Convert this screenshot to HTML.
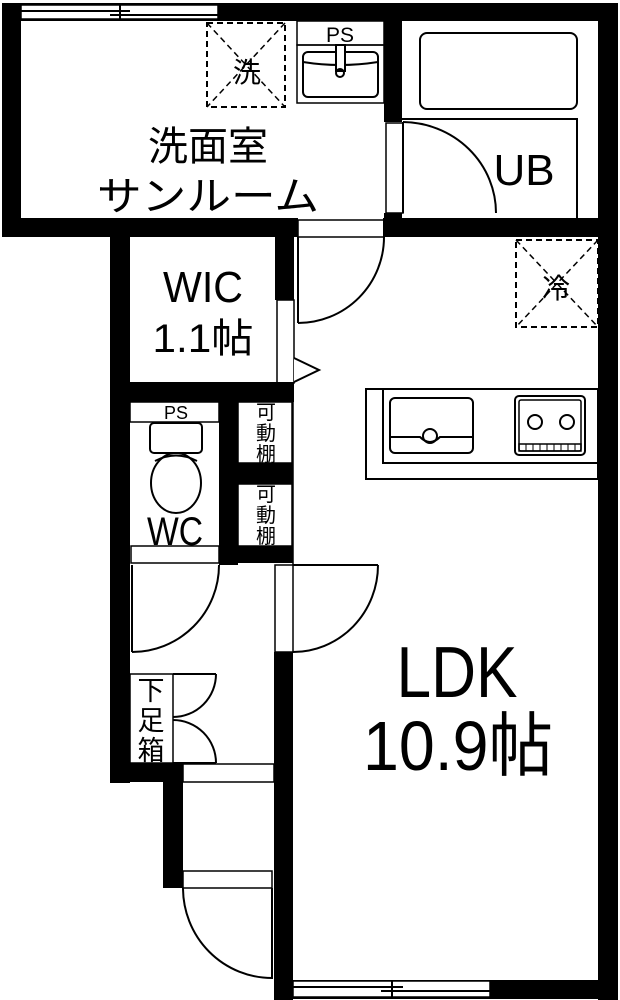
<!DOCTYPE html>
<html><head><meta charset="utf-8"><style>
html,body{margin:0;padding:0;background:#fff;}
svg{display:block;}
text{font-family:"Liberation Sans","Noto Sans CJK JP",sans-serif;fill:#000;}
</style></head><body>
<svg width="620" height="1000" viewBox="0 0 620 1000" xmlns="http://www.w3.org/2000/svg">
<rect width="620" height="1000" fill="#fff"/>
<g fill="#000">
<rect x="2" y="3" width="616" height="18"/>
<rect x="2" y="3" width="19" height="234"/>
<rect x="2" y="218" width="296" height="19"/>
<rect x="383" y="218" width="235" height="19"/>
<rect x="384" y="18" width="18" height="104"/>
<rect x="384" y="213" width="18" height="12"/>
<rect x="598" y="3" width="20" height="997"/>
<rect x="110" y="230" width="20" height="553"/>
<rect x="275" y="230" width="19" height="70"/>
<rect x="110" y="382" width="184" height="20"/>
<rect x="219" y="400" width="19" height="165"/>
<rect x="238" y="463" width="55" height="21"/>
<rect x="219" y="546" width="74" height="17"/>
<rect x="110" y="763" width="73" height="19"/>
<rect x="163" y="763" width="20" height="125"/>
<rect x="274" y="652" width="19" height="348"/>
<rect x="274" y="980" width="344" height="19"/>
</g>
<g fill="none" stroke="#000" stroke-width="2">
<rect x="21" y="5" width="197" height="14" fill="#fff" stroke-width="1.5"/>
<line x1="21" y1="11" x2="130" y2="11"/>
<line x1="110" y1="15" x2="218" y2="15"/>
<line x1="120" y1="5" x2="120" y2="19"/>
<rect x="293" y="981" width="197" height="16" fill="#fff" stroke-width="1.5"/>
<line x1="293" y1="987" x2="403" y2="987"/>
<line x1="381" y1="991" x2="490" y2="991"/>
<line x1="392" y1="981" x2="392" y2="997"/>
<rect x="207" y="23" width="78" height="84" stroke-dasharray="6,4"/>
<line x1="207" y1="23" x2="285" y2="107" stroke-dasharray="6,4" stroke-width="1.5"/>
<line x1="285" y1="23" x2="207" y2="107" stroke-dasharray="6,4" stroke-width="1.5"/>
<rect x="297" y="21" width="87" height="24" stroke-width="1.5"/>
<rect x="297" y="45" width="87" height="58" stroke-width="1.5"/>
<rect x="303" y="52" width="75" height="45" rx="5"/>
<path d="M303 62 Q340 68 378 62"/>
<rect x="336" y="45" width="9" height="26" fill="#fff"/>
<circle cx="340" cy="73" r="4"/>
<rect x="420" y="33" width="157" height="76" rx="7"/>
<polyline points="402,119 577,119 577,218"/>
<rect x="386" y="123" width="17" height="90" stroke-width="1.5"/>
<line x1="403" y1="122" x2="403" y2="213"/>
<path d="M403 122 A94 91 0 0 1 496 213"/>
<rect x="298" y="220" width="86" height="17" stroke-width="1.5"/>
<line x1="298" y1="237" x2="298" y2="323"/>
<path d="M298 323 A86 86 0 0 0 384 237"/>
<rect x="277" y="300" width="17" height="83" stroke-width="1.5"/>
<polyline points="294,358 319,370 294,382" fill="#fff"/>
<rect x="516" y="240" width="82" height="87" stroke-dasharray="6,4"/>
<line x1="516" y1="240" x2="598" y2="327" stroke-dasharray="6,4" stroke-width="1.5"/>
<line x1="598" y1="240" x2="516" y2="327" stroke-dasharray="6,4" stroke-width="1.5"/>
<rect x="366" y="389" width="232" height="90"/>
<polyline points="383,389 383,463 598,463"/>
<rect x="390" y="398" width="83" height="55" rx="5"/>
<path d="M390 437 L420 437 Q430 447 440 437 L473 437"/>
<circle cx="430" cy="436" r="7"/>
<rect x="515" y="396" width="70" height="59" rx="4"/>
<rect x="519" y="400" width="62" height="51" rx="2" stroke-width="1.5"/>
<ellipse cx="535" cy="422" rx="7" ry="7"/>
<ellipse cx="567" cy="422" rx="7" ry="7"/>
<rect x="519" y="444" width="62" height="7" stroke-width="1.5"/>
<line x1="526" y1="444" x2="526" y2="451" stroke-width="1"/><line x1="533" y1="444" x2="533" y2="451" stroke-width="1"/><line x1="540" y1="444" x2="540" y2="451" stroke-width="1"/><line x1="547" y1="444" x2="547" y2="451" stroke-width="1"/><line x1="554" y1="444" x2="554" y2="451" stroke-width="1"/><line x1="561" y1="444" x2="561" y2="451" stroke-width="1"/><line x1="568" y1="444" x2="568" y2="451" stroke-width="1"/><line x1="575" y1="444" x2="575" y2="451" stroke-width="1"/>
<rect x="130" y="402" width="89" height="20" stroke-width="1.5"/>
<rect x="150" y="423" width="52" height="30" rx="4"/>
<ellipse cx="176" cy="483" rx="25" ry="30"/>
<path d="M155 461 Q176 450 197 461"/>
<rect x="238" y="402" width="54" height="61" stroke-width="1.5"/>
<rect x="238" y="484" width="54" height="62" stroke-width="1.5"/>
<line x1="293" y1="383" x2="293" y2="565" stroke-width="1.5"/>
<rect x="131" y="546" width="88" height="17" stroke-width="1.5"/>
<line x1="132" y1="565" x2="132" y2="652"/>
<path d="M132 652 A87 87 0 0 0 219 565"/>
<rect x="275" y="565" width="18" height="87" stroke-width="1.5"/>
<line x1="293" y1="565" x2="378" y2="565"/>
<path d="M378 565 A85 87 0 0 1 293 652"/>
<rect x="130" y="674" width="43" height="89" stroke-width="1.5"/>
<line x1="173" y1="674" x2="216" y2="674"/>
<line x1="173" y1="763" x2="216" y2="763"/>
<path d="M216 674 A43 43 0 0 1 173 717"/>
<path d="M173 720 A43 43 0 0 1 216 763"/>
<rect x="183" y="764" width="91" height="18" stroke-width="1.5"/>
<rect x="183" y="871" width="89" height="17" stroke-width="1.5"/>
<line x1="272" y1="888" x2="272" y2="979"/>
<path d="M183 888 A89 90 0 0 0 272 978"/>
</g>
<text x="247" y="82" font-size="28" text-anchor="middle">洗</text>
<text x="340" y="42" font-size="21" text-anchor="middle">PS</text>
<text x="208" y="160" font-size="40" text-anchor="middle">洗面室</text>
<text x="208" y="210" font-size="40" text-anchor="middle" textLength="222" lengthAdjust="spacingAndGlyphs">サンルーム</text>
<text x="524" y="185" font-size="44" text-anchor="middle">UB</text>
<text x="556" y="298" font-size="28" text-anchor="middle">冷</text>
<text x="203" y="302" font-size="44" text-anchor="middle" textLength="80" lengthAdjust="spacingAndGlyphs">WIC</text>
<text x="203" y="352" font-size="40" text-anchor="middle" textLength="101" lengthAdjust="spacingAndGlyphs">1.1帖</text>
<text x="176" y="419" font-size="18" text-anchor="middle">PS</text>
<text x="175" y="545" font-size="40" text-anchor="middle" textLength="56" lengthAdjust="spacingAndGlyphs">WC</text>
<text x="266" y="419" font-size="20" text-anchor="middle">可</text>
<text x="266" y="440" font-size="20" text-anchor="middle">動</text>
<text x="266" y="461" font-size="20" text-anchor="middle">棚</text>
<text x="266" y="501" font-size="20" text-anchor="middle">可</text>
<text x="266" y="522" font-size="20" text-anchor="middle">動</text>
<text x="266" y="543" font-size="20" text-anchor="middle">棚</text>
<text x="151" y="700" font-size="27" text-anchor="middle">下</text>
<text x="151" y="730" font-size="27" text-anchor="middle">足</text>
<text x="151" y="760" font-size="27" text-anchor="middle">箱</text>
<text x="457" y="697" font-size="72" text-anchor="middle" textLength="121" lengthAdjust="spacingAndGlyphs">LDK</text>
<text x="458" y="770" font-size="70" text-anchor="middle" textLength="190" lengthAdjust="spacingAndGlyphs">10.9帖</text>
</svg>
</body></html>
